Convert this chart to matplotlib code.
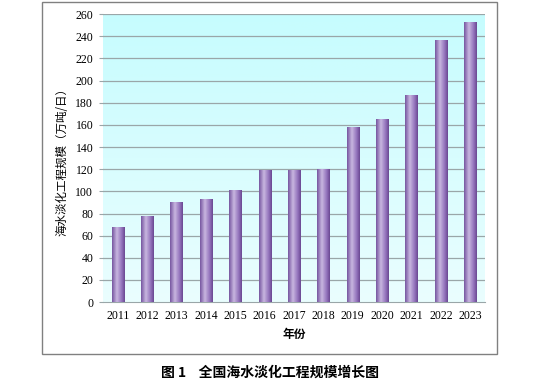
import matplotlib.pyplot as plt
import numpy as np
from matplotlib.colors import LinearSegmentedColormap
from matplotlib.patches import Rectangle

years = ["2011", "2012", "2013", "2014", "2015", "2016", "2017",
         "2018", "2019", "2020", "2021", "2022", "2023"]
capacity = [67, 77.5, 89.5, 92.5, 100.5, 119, 118.5, 120, 157.5, 165, 186, 236, 252]
yticks = list(range(0, 261, 20))

serif = ["Liberation Serif", "Noto Sans CJK SC", "DejaVu Sans"]
cjk = ["Noto Sans CJK SC", "DejaVu Sans"]

fig = plt.figure(figsize=(5.51, 3.81), dpi=100)
fig.patch.set_facecolor("white")

# outer frame
fig.add_artist(Rectangle((0.076, 0.071), 0.826, 0.924, transform=fig.transFigure,
                         fill=False, edgecolor="#808080", linewidth=1.0))

ax = fig.add_axes([0.187, 0.207, 0.693, 0.756])
ax.set_xlim(-0.5, len(years) - 0.5)
ax.set_ylim(0, 260)

# plot area background, vertical gradient
bg = LinearSegmentedColormap.from_list("bg", ["#eafefe", "#c6fcfe"])
ax.imshow(np.linspace(0, 1, 256).reshape(-1, 1), cmap=bg, origin="lower",
          extent=[-0.5, len(years) - 0.5, 0, 260], aspect="auto", zorder=0)

for t in yticks[1:]:
    ax.axhline(t, color="#9aa6a8", linewidth=0.9, zorder=1)

# cylinder-like bars
bar_cmap = LinearSegmentedColormap.from_list(
    "bar", [(0, "#7656a0"), (0.38, "#c8b6e0"), (0.75, "#9474bc"), (1, "#6a4892")])
grad = np.linspace(0, 1, 64).reshape(1, -1)
w = 0.41
x = np.arange(len(years))
bars = ax.bar(x, capacity, width=w, color="none", zorder=2)
for b in bars:
    x0, y0 = b.get_x(), b.get_y()
    ax.imshow(grad, cmap=bar_cmap, extent=[x0, x0 + b.get_width(), y0, y0 + b.get_height()],
              aspect="auto", zorder=3)

ax.set_xlim(-0.5, len(years) - 0.5)
ax.set_ylim(0, 260)
for s in ["top", "right", "left"]:
    ax.spines[s].set_visible(False)
ax.spines["bottom"].set_color("#9aa6a8")
ax.set_xticks(x)
ax.set_xticklabels(years, family=serif, fontsize=8.5)
ax.set_yticks(yticks)
ax.set_yticklabels([str(t) for t in yticks], family=serif, fontsize=8.5)
ax.tick_params(axis="x", length=0, pad=6)
ax.tick_params(axis="y", length=3, color="#9aa6a8", pad=4)

ax.set_xlabel("年份", family=cjk, fontsize=8.5, fontweight="bold", labelpad=4)
fig.text(0.113, 0.583, "海水淡化工程规模（万吨/日）", rotation=90, family=cjk,
         fontsize=8.3, ha="center", va="center")

fig.text(0.49, 0.004, "图 1    全国海水淡化工程规模增长图", family=cjk,
         fontsize=10, fontweight="bold", ha="center", va="bottom")

fig.savefig("out.png", dpi=100)
